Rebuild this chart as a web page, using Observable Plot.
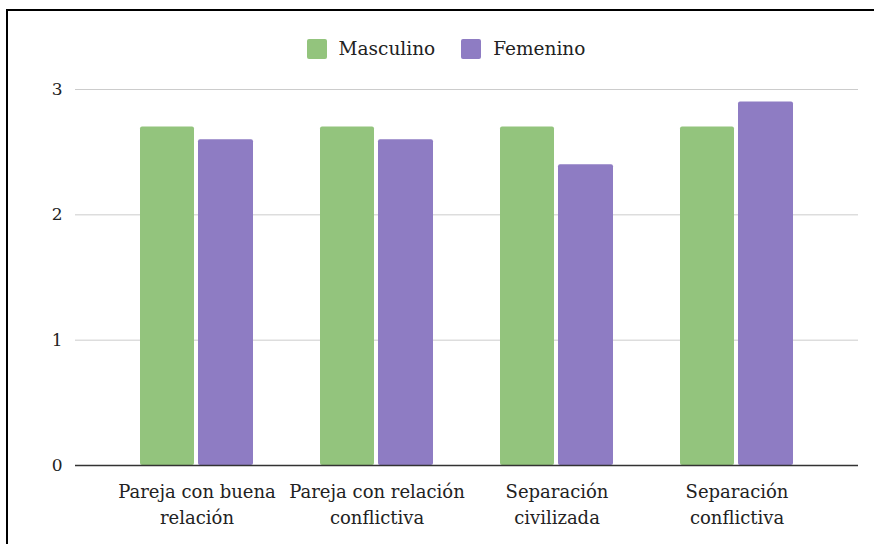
<!DOCTYPE html>
<html>
<head>
<meta charset="utf-8">
<script src="https://cdn.jsdelivr.net/npm/d3@7"></script>
<script src="https://cdn.jsdelivr.net/npm/@observablehq/plot@0.6"></script>
<style>
  html, body { margin: 0; padding: 0; background: #fff; width: 874px; height: 544px; overflow: hidden; }
  #frame { position: absolute; left: 6px; top: 9px; width: 900px; height: 600px; border: 2px solid #000; box-sizing: border-box; }
  #legend { position: absolute; left: 9px; top: 38px; width: 874px; display: flex; justify-content: center; align-items: center; font-size: 18.5px; color: #222; font-family: 'DejaVu Serif'; }
  #legend .item { display: flex; align-items: center; margin: 0 13px; }
  #legend .sw { width: 20px; height: 20px; border-radius: 2px; margin-right: 12px; }
  #chart { position: absolute; left: 0; top: 70px; font-family: 'DejaVu Serif'; }
</style>
</head>
<body>
<div id="frame"></div>
<div id="legend"></div>
<div id="chart"></div>
<script>
const categories = ["Pareja con buena\nrelación", "Pareja con relación\nconflictiva", "Separación\ncivilizada", "Separación\nconflictiva"];
const seriesNames = ["Masculino", "Femenino"];
const seriesColors = ["#93c47d", "#8e7cc3"];
const masculino = [2.7, 2.7, 2.7, 2.7];
const femenino = [2.6, 2.6, 2.4, 2.9];
const yTicks = [0, 1, 2, 3];

const dataM = categories.map((c, i) => ({cat: c, value: masculino[i]}));
const dataF = categories.map((c, i) => ({cat: c, value: femenino[i]}));

const legend = document.getElementById("legend");
seriesNames.forEach((n, i) => {
  const it = document.createElement("div");
  it.className = "item";
  it.innerHTML = `<span class="sw" style="background:${seriesColors[i]}"></span><span>${n}</span>`;
  legend.appendChild(it);
});

const FONT = "DejaVu Serif";
const chart = Plot.plot({
  width: 874,
  height: 474,
  marginLeft: 75,
  marginRight: 16,
  marginTop: 19,
  marginBottom: 79,
  style: {fontFamily: FONT, fontSize: "17px", color: "#222", background: "transparent"},
  x: {type: "band", domain: categories, paddingInner: 0.374, paddingOuter: 0.352, label: null},
  y: {domain: [0, 3], label: null},
  marks: [
    Plot.ruleY(yTicks.filter(d => d > 0), {stroke: "#cccccc", strokeWidth: 1}),
    Plot.barY(dataM, {x: "cat", y: "value", fill: seriesColors[0], insetRight: 59, rx: 2}),
    Plot.barY(dataF, {x: "cat", y: "value", fill: seriesColors[1], insetLeft: 58, rx: 2}),
    Plot.ruleY([0], {stroke: "#333", strokeWidth: 1.5}),
    Plot.axisY({ticks: yTicks, tickFormat: d3.format("d"), tickSize: 0, tickPadding: 13, label: null, fontSize: 17, fontFamily: FONT}),
    Plot.axisX({tickSize: 0, tickPadding: 15, label: null, fontSize: 18, fontFamily: FONT, lineHeight: 1.4})
  ]
});
document.getElementById("chart").appendChild(chart);
</script>
</body>
</html>
